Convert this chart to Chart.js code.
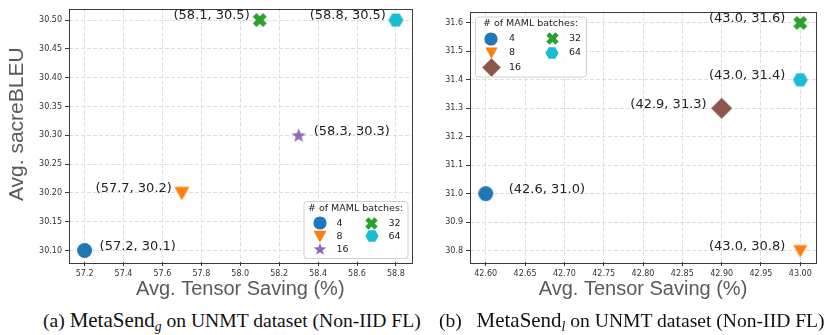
<html>
<head>
  <title>MetaSend scatter</title>
  <style>
    body {
      margin: 0;
      background: #fff;
      width: 831px;
      height: 335px;
      position: relative;
      overflow: hidden;
    }
    canvas { position: absolute; top: 0; }
    .cap {
      position: absolute;
      top: 308px;
      font-family: 'Liberation Serif', 'Times New Roman', serif;
      font-size: 19.6px;
      color: #111;
      white-space: nowrap;
    }
    .cap .ms { font-size: 1.07em; }
    .cap sub { font-style: italic; font-size: 0.7em; vertical-align: -0.3em; line-height: 0; }
  </style>
</head>
<body>
  <canvas id="chartG" width="420" height="302" style="left:0"></canvas>
  <canvas id="chartL" width="416" height="302" style="left:415px"></canvas>
  <div class="cap" style="left:43px">(a) <span class="ms">MetaSend</span><sub>g</sub> on UNMT dataset (Non-IID FL)</div>
  <div class="cap" style="left:439px">(b)&nbsp;&nbsp; <span class="ms">MetaSend</span><sub>l</sub> on UNMT dataset (Non-IID FL)</div>

  <script src="https://cdn.jsdelivr.net/npm/chart.js"></script>
  <script>
    const batchSizes = ['4', '8', '16', '32', '64'];

    // (a) MetaSend_g
    const savingG = [57.2, 57.7, 58.3, 58.1, 58.8];
    const bleuG = [30.1, 30.2, 30.3, 30.5, 30.5];

    // (b) MetaSend_l
    const savingL = [42.6, 43.0, 42.9, 43.0, 43.0];
    const bleuL = [31.0, 30.8, 31.3, 31.6, 31.4];

    const legendTitle = '# of MAML batches:';
    const xTitle = 'Avg. Tensor Saving (%)';
    const yTitle = 'Avg. sacreBLEU';

    function makeMarker(shape, color, size) {
      var s = Math.ceil(size) + 2;
      var c = document.createElement('canvas');
      c.width = s;
      c.height = s;
      var ctx = c.getContext('2d');
      ctx.translate(s / 2, s / 2);
      ctx.fillStyle = color;
      var r = size / 2;
      ctx.beginPath();
      if (shape === 'circle') {
        ctx.arc(0, 0, r, 0, Math.PI * 2);
      } else if (shape === 'triDown') {
        ctx.moveTo(-r, -r * 0.8);
        ctx.lineTo(r, -r * 0.8);
        ctx.lineTo(0, r);
      } else if (shape === 'star') {
        for (var i = 0; i < 10; i++) {
          var a = -Math.PI / 2 + i * Math.PI / 5;
          var rr = i % 2 ? r * 0.42 : r;
          ctx.lineTo(rr * Math.cos(a), rr * Math.sin(a) + r * 0.08);
        }
      } else if (shape === 'xFilled') {
        var R = r * 1.414 / 1.36, w = R * 0.36;
        var pts = [[w, w], [w, R], [-w, R], [-w, w], [-R, w], [-R, -w], [-w, -w], [-w, -R], [w, -R], [w, -w], [R, -w], [R, w]];
        ctx.rotate(Math.PI / 4);
        pts.forEach(function (p) { ctx.lineTo(p[0], p[1]); });
      } else if (shape === 'hexagon') {
        for (var k = 0; k < 6; k++) {
          var b = k * Math.PI / 3;
          ctx.lineTo(r * Math.cos(b), r * Math.sin(b));
        }
      } else if (shape === 'diamond') {
        ctx.moveTo(0, -r);
        ctx.lineTo(r, 0);
        ctx.lineTo(0, r);
        ctx.lineTo(-r, 0);
      }
      ctx.closePath();
      ctx.fill();
      return c;
    }

    // full box around the plot area, like matplotlib spines
    const framePlugin = {
      id: 'frame',
      afterDatasetsDraw(chart) {
        var a = chart.chartArea, ctx = chart.ctx;
        ctx.save();
        ctx.strokeStyle = '#3a3a3a';
        ctx.lineWidth = 1;
        ctx.strokeRect(Math.round(a.left) + 0.5, Math.round(a.top) + 0.5,
          Math.round(a.right - a.left), Math.round(a.bottom - a.top));
        ctx.restore();
      }
    };

    // "(x, y)" annotation next to each point
    const pointLabelsPlugin = {
      id: 'pointLabels',
      afterDatasetsDraw(chart, args, opts) {
        var ctx = chart.ctx;
        ctx.save();
        ctx.font = '13px "DejaVu Sans"';
        ctx.fillStyle = '#222';
        ctx.textBaseline = 'middle';
        chart.data.datasets.forEach(function (ds, i) {
          var el = chart.getDatasetMeta(i).data[0];
          var p = ds.data[0];
          var txt = '(' + p.x.toFixed(1) + ', ' + p.y.toFixed(1) + ')';
          if (opts.sides[i] === 'right') {
            ctx.textAlign = 'left';
            ctx.fillText(txt, el.x + opts.right, el.y + opts.dy);
          } else {
            ctx.textAlign = 'right';
            ctx.fillText(txt, el.x - opts.left, el.y + opts.dy);
          }
        });
        ctx.restore();
      }
    };

    // matplotlib-ish legend: title + two columns
    const batchLegendPlugin = {
      id: 'batchLegend',
      afterDraw(chart, args, opts) {
        var a = chart.chartArea, ctx = chart.ctx;
        var w = opts.width, h = opts.height;
        var x0 = opts.corner === 'lowerRight' ? a.right - opts.inset - w : a.left + opts.inset;
        var y0 = opts.corner === 'lowerRight' ? a.bottom - opts.inset - h : a.top + opts.inset;
        ctx.save();
        ctx.beginPath();
        ctx.roundRect(x0 + 0.5, y0 + 0.5, w, h, 3);
        ctx.fillStyle = 'rgba(255,255,255,0.85)';
        ctx.fill();
        ctx.strokeStyle = '#d0d0d0';
        ctx.lineWidth = 1;
        ctx.stroke();
        ctx.font = '9.5px "DejaVu Sans"';
        ctx.fillStyle = '#222';
        ctx.textBaseline = 'middle';
        ctx.textAlign = 'center';
        ctx.fillText(legendTitle, x0 + w / 2, y0 + opts.titleY);
        ctx.textAlign = 'left';
        chart.data.datasets.forEach(function (ds, i) {
          var col = i < 3 ? 0 : 1;
          var row = i < 3 ? i : i - 3;
          var cy = y0 + opts.rowY[row];
          var mx = x0 + opts.markX[col];
          var m = makeMarker(opts.shapes[i], opts.colors[i], opts.sizes[i] * opts.markerScale);
          ctx.drawImage(m, Math.round(mx - m.width / 2), Math.round(cy - m.height / 2));
          ctx.fillText(ds.label, x0 + opts.textX[col], cy + 0.5);
        });
        ctx.restore();
      }
    };

    // y axis title (only the left panel has one)
    const yTitlePlugin = {
      id: 'yTitle',
      afterDraw(chart, args, opts) {
        if (!opts.show) return;
        var a = chart.chartArea, ctx = chart.ctx;
        ctx.save();
        ctx.translate(opts.x, (a.top + a.bottom) / 2 + opts.dy);
        ctx.rotate(-Math.PI / 2);
        ctx.font = '21px "Liberation Sans"';
        ctx.fillStyle = '#5a5a5a';
        ctx.textAlign = 'center';
        ctx.textBaseline = 'middle';
        ctx.fillText(yTitle, 0, 0);
        ctx.restore();
      }
    };

    function padRange(arr) {
      var lo = Math.min.apply(null, arr), hi = Math.max.apply(null, arr);
      var m = (hi - lo) * 0.05;
      return [lo - m, hi + m];
    }

    function buildChart(id, xs, ys, look) {
      var xr = padRange(xs), yr = padRange(ys);
      var datasets = batchSizes.map(function (b, i) {
        return {
          label: b,
          data: [{ x: xs[i], y: ys[i] }],
          pointStyle: makeMarker(look.shapes[i], look.colors[i], look.sizes[i]),
          pointRadius: look.sizes[i] / 2,
          backgroundColor: look.colors[i],
          borderColor: look.colors[i]
        };
      });
      var tickFont = { family: 'DejaVu Sans', size: 8 };
      var grid = { color: '#dedede', tickLength: 4, tickColor: '#3a3a3a', tickWidth: 1, tickBorderDash: [] };

      return new Chart(document.getElementById(id), {
        type: 'scatter',
        data: { datasets: datasets },
        options: {
          responsive: false,
          devicePixelRatio: 1,
          animation: false,
          events: [],
          layout: { padding: look.padding },
          plugins: {
            legend: { display: false },
            tooltip: { enabled: false },
            pointLabels: look.labels,
            batchLegend: Object.assign({ shapes: look.shapes, colors: look.colors, sizes: look.sizes }, look.legend),
            yTitle: look.yTitle
          },
          scales: {
            x: {
              type: 'linear',
              min: xr[0],
              max: xr[1],
              afterFit: function (s) { s.height = look.xHeight; },
              ticks: {
                stepSize: look.xStep,
                includeBounds: false,
                autoSkip: false,
                maxRotation: 0,
                padding: 3,
                font: tickFont,
                color: '#333',
                callback: function (v) { return v.toFixed(look.xDec); }
              },
              grid: grid,
              border: { display: false, dash: [4, 2] },
              title: {
                display: true,
                text: xTitle,
                color: '#5a5a5a',
                font: { family: 'Liberation Sans', size: 20 },
                padding: { top: 0, bottom: 1 }
              }
            },
            y: {
              type: 'linear',
              min: yr[0],
              max: yr[1],
              afterFit: function (s) { s.width = look.yWidth; },
              ticks: {
                stepSize: look.yStep,
                includeBounds: false,
                autoSkip: false,
                padding: 3,
                font: tickFont,
                color: '#333',
                callback: function (v) { return v.toFixed(look.yDec); }
              },
              grid: grid,
              border: { display: false, dash: [4, 2] }
            }
          }
        },
        plugins: [framePlugin, pointLabelsPlugin, batchLegendPlugin, yTitlePlugin]
      });
    }

    buildChart('chartG', savingG, bleuG, {
      shapes: ['circle', 'triDown', 'star', 'xFilled', 'hexagon'],
      colors: ['#1f77b4', '#ff7f0e', '#9467bd', '#2ca02c', '#17becf'],
      sizes: [15, 15, 15, 14, 15],
      padding: { top: 5, right: 6, left: 0, bottom: 0 },
      xHeight: 40, yWidth: 69,
      xStep: 0.2, yStep: 0.05, xDec: 1, yDec: 2,
      labels: { sides: ['right', 'left', 'right', 'left', 'left'], right: 15, left: 10, dy: -4 },
      legend: {
        corner: 'lowerRight', inset: 4, width: 104, height: 57, titleY: 8,
        rowY: [22, 35, 48], markX: [16, 68], textX: [33, 85], markerScale: 0.88
      },
      yTitle: { show: true, x: 17, dy: -11 }
    });

    buildChart('chartL', savingL, bleuL, {
      shapes: ['circle', 'triDown', 'diamond', 'xFilled', 'hexagon'],
      colors: ['#1f77b4', '#ff7f0e', '#8c564b', '#2ca02c', '#17becf'],
      sizes: [15, 14, 21, 14, 15],
      padding: { top: 3, right: 15, left: 0, bottom: 0 },
      xHeight: 40, yWidth: 55,
      xStep: 0.05, yStep: 0.1, xDec: 2, yDec: 1,
      labels: { sides: ['right', 'left', 'left', 'left', 'left'], right: 23, left: 15, dy: -4 },
      legend: {
        corner: 'upperLeft', inset: 5, width: 111, height: 60, titleY: 7,
        rowY: [22, 36, 51], markX: [16, 77], textX: [34, 94], markerScale: 0.88
      },
      yTitle: { show: false }
    });
  </script>
</body>
</html>
